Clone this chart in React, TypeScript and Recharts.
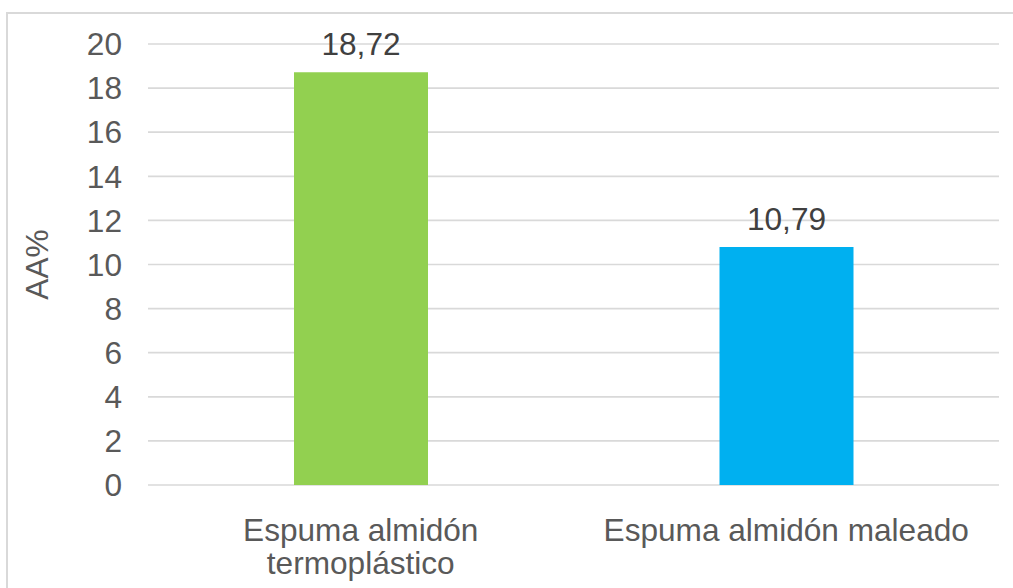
import React from "react";
import { BarChart, Bar, XAxis, YAxis, CartesianGrid, LabelList, Cell } from "recharts";

// AA% by foam type
const CATEGORIES = ["Espuma almidón termoplástico", "Espuma almidón maleado"];
const CATEGORY_LINES = [["Espuma almidón", "termoplástico"], ["Espuma almidón maleado"]];
const VALUES = [18.72, 10.79];
const BAR_COLORS = ["#92D050", "#00B0F0"];
const Y_TICKS = [0, 2, 4, 6, 8, 10, 12, 14, 16, 18, 20];

const data = CATEGORIES.map((name, i) => ({ name, value: VALUES[i] }));

const FONT = '"Liberation Sans", Arial, sans-serif';
const TEXT = "#595959";

const CategoryTick = (props: any) => {
  const { x, y, index } = props;
  const lines = CATEGORY_LINES[index] || [props.payload.value];
  return (
    <text x={x} y={y} textAnchor="middle" fill={TEXT} fontSize={31.6} fontFamily={FONT}>
      {lines.map((l, i) => (
        <tspan key={i} x={x} dy={i === 0 ? 48 : 33}>
          {l}
        </tspan>
      ))}
    </text>
  );
};

const AxisTitle = (props: any) => {
  const vb = props.viewBox || {};
  const cy = (vb.y ?? 44) + (vb.height ?? 441) / 2;
  const cx = 37;
  return (
    <text
      x={cx}
      y={cy}
      transform={`rotate(-90 ${cx} ${cy})`}
      textAnchor="middle"
      dominantBaseline="central"
      fill={TEXT}
      fontSize={31.6}
      fontFamily={FONT}
    >
      AA%
    </text>
  );
};

export default function App() {
  return (
    <div style={{ position: "absolute", left: 0, top: 0, width: 1013, height: 588, overflow: "hidden", background: "#fff" }}>
      <div
        style={{
          position: "absolute",
          left: 6,
          top: 12,
          width: 1040,
          height: 620,
          border: "2px solid #D9D9D9",
          boxSizing: "border-box",
        }}
      />
      <div style={{ position: "absolute", left: 0, top: 0 }}>
        <BarChart
          width={1013}
          height={588}
          data={data}
          margin={{ top: 44, right: 14, bottom: 0, left: 0 }}
        >
          <CartesianGrid vertical={false} stroke="#D9D9D9" strokeWidth={1.7} />
          <XAxis
            dataKey="name"
            axisLine={false}
            tickLine={false}
            height={103}
            interval={0}
            tick={<CategoryTick />}
          />
          <YAxis
            domain={[0, 20]}
            ticks={Y_TICKS}
            width={148}
            axisLine={false}
            tickLine={false}
            tickMargin={20}
            tick={{ fill: TEXT, fontSize: 31.6, fontFamily: FONT }}
            label={<AxisTitle />}
          />
          <Bar dataKey="value" barSize={134} isAnimationActive={false}>
            {data.map((d, i) => (
              <Cell key={d.name} fill={BAR_COLORS[i]} />
            ))}
            <LabelList
              dataKey="value"
              position="top"
              offset={17}
              fill="#404040"
              fontSize={31.6}
              fontFamily={FONT}
              formatter={(v: any) => Number(v).toFixed(2).replace(".", ",")}
            />
          </Bar>
        </BarChart>
      </div>
    </div>
  );
}
